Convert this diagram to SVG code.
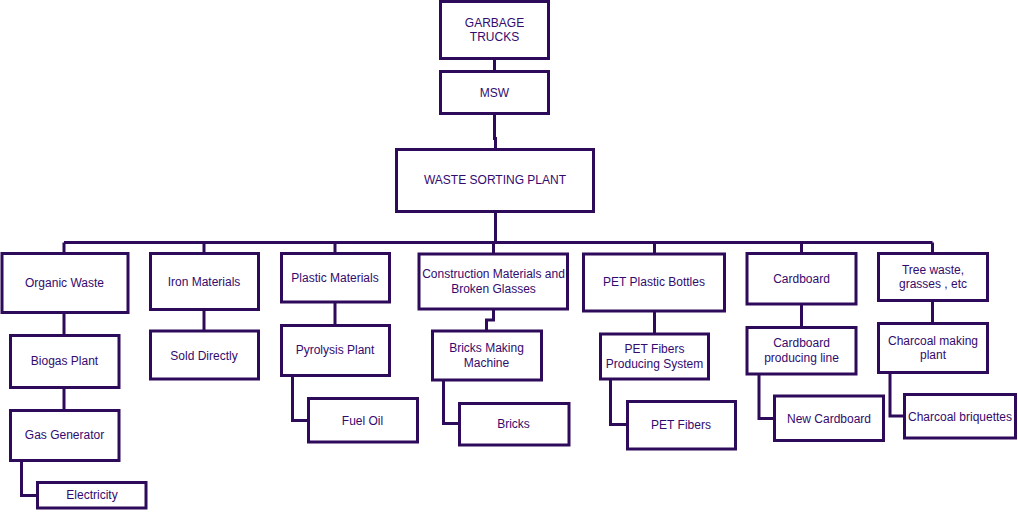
<svg xmlns="http://www.w3.org/2000/svg" width="1018" height="532" viewBox="0 0 1018 532">
<style>
rect{fill:#fff;stroke:#2e0a5a;stroke-width:3}
.c path{fill:none;stroke:#2e0a5a;stroke-width:3}
text{font-family:"Liberation Sans",Arial,sans-serif;font-size:12px;fill:#330a6e;text-anchor:middle}
</style>
<rect x="0" y="0" width="1018" height="532" style="stroke:none"/>
<g class="c">
<path d="M494.5 58.5V71.5M494.5 113V138.5H495.5V149.5M495.5 211V242.5M64 242.5H932.5M64 242.5V253.5M204 242.5V253.5M335 242.5V253.5M493.5 242.5V254M654.5 242.5V254M801.5 242.5V253.5M932.5 242.5V253.5"/>
<path d="M64 312.5V335.5M64 387V410.5M21.5 460V495.5H37.5"/>
<path d="M204 309V331"/>
<path d="M335 302V325.5M292.5 375.5V420.5H308"/>
<path d="M493.5 309V320H486.5V331M443.5 380V423.5H459.5"/>
<path d="M654.5 311V334M610.5 379V424.5H627.5"/>
<path d="M801.5 304V327.5M759 374V418.5H774"/>
<path d="M932.5 300.5V323.5M890 372.5V416H904.5"/>
</g>
<g id="garbage"><rect x="440.5" y="1.5" width="108" height="57"/><text x="494.5" y="27">GARBAGE</text><text x="494.5" y="41">TRUCKS</text></g>
<g id="msw"><rect x="440.5" y="71.5" width="108" height="42"/><text x="494.5" y="97">MSW</text></g>
<g id="sorting"><rect x="396.5" y="149.5" width="197" height="62"/><text x="495" y="184">WASTE SORTING PLANT</text></g>
<g id="organic"><rect x="2" y="253.5" width="126" height="59"/><text x="64.5" y="286.5">Organic Waste</text></g>
<g id="biogas"><rect x="10.5" y="335.5" width="108.5" height="52"/><text x="64.5" y="365">Biogas Plant</text></g>
<g id="gasgen"><rect x="10.5" y="410.5" width="108.5" height="50"/><text x="64.5" y="438.5">Gas Generator</text></g>
<g id="electricity"><rect x="37.5" y="482.5" width="108.5" height="25.5"/><text x="92" y="499">Electricity</text></g>
<g id="iron"><rect x="150.5" y="253.5" width="108" height="56"/><text x="204" y="285.5">Iron Materials</text></g>
<g id="sold"><rect x="150.5" y="331" width="108" height="48"/><text x="204" y="360">Sold Directly</text></g>
<g id="plastic"><rect x="281.5" y="253.5" width="108" height="48.5"/><text x="335" y="282">Plastic Materials</text></g>
<g id="pyrolysis"><rect x="281.5" y="325.5" width="108" height="50"/><text x="335" y="354">Pyrolysis Plant</text></g>
<g id="fueloil"><rect x="308.5" y="398.5" width="109" height="43.5"/><text x="362.5" y="424.5">Fuel Oil</text></g>
<g id="construction"><rect x="419" y="254" width="148.5" height="55"/><text x="493.5" y="278">Construction Materials and</text><text x="493.5" y="293">Broken Glasses</text></g>
<g id="bricksmachine"><rect x="432.5" y="331" width="109" height="49"/><text x="486.5" y="352">Bricks Making</text><text x="486.5" y="367">Machine</text></g>
<g id="bricks"><rect x="459.5" y="403.5" width="109.5" height="41.5"/><text x="513.5" y="428">Bricks</text></g>
<g id="pet"><rect x="583.5" y="254" width="141" height="57"/><text x="654" y="286">PET Plastic Bottles</text></g>
<g id="petsystem"><rect x="600.5" y="334" width="108" height="45"/><text x="654.5" y="353">PET Fibers</text><text x="654.5" y="368">Producing System</text></g>
<g id="petfibers"><rect x="627.5" y="401.5" width="108" height="47.5"/><text x="681" y="428.5">PET Fibers</text></g>
<g id="cardboard"><rect x="747" y="253.5" width="109" height="50.5"/><text x="801.5" y="283">Cardboard</text></g>
<g id="cardline"><rect x="747" y="327.5" width="109" height="46.5"/><text x="801.5" y="347">Cardboard</text><text x="801.5" y="361.5">producing line</text></g>
<g id="newcard"><rect x="774.5" y="396" width="109" height="44.5"/><text x="829" y="422.5">New Cardboard</text></g>
<g id="tree"><rect x="878.5" y="253.5" width="109" height="47"/><text x="933" y="274">Tree waste,</text><text x="933" y="288">grasses , etc</text></g>
<g id="charcoalplant"><rect x="878.5" y="323.5" width="109" height="49"/><text x="933" y="344.5">Charcoal making</text><text x="933" y="359">plant</text></g>
<g id="briquettes"><rect x="904.5" y="394.5" width="111" height="43.5"/><text x="960" y="420.5">Charcoal briquettes</text></g>
</svg>
